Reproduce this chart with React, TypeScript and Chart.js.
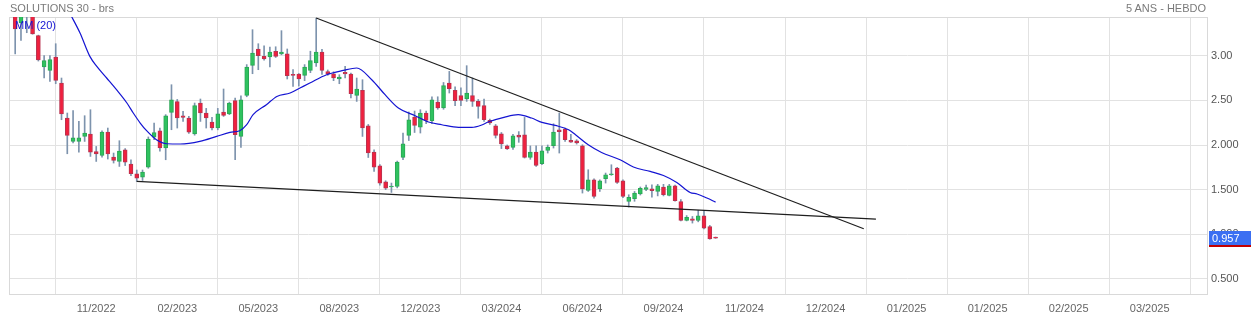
import React, { useEffect, useRef } from "react";
import { Chart, registerables } from "chart.js";

Chart.register(...registerables);

// ---- DATA (weekly candles, index 0 = first visible week) ----
const opens = [
  3.55, 3.366, 3.62, 3.5, 3.224, 2.873, 2.835, 2.985, 2.694, 2.302,
  2.04, 2.04, 2.096, 2.123, 1.925, 1.883, 2.145, 1.865, 1.816, 1.947,
  1.787, 1.678, 1.641, 1.753, 2.089, 2.16, 1.966, 2.365, 2.485, 2.328,
  2.302, 2.123, 2.47, 2.358, 2.257, 2.19, 2.369, 2.347, 2.496, 2.096,
  2.555, 2.891, 3.075, 2.992, 2.985, 3.048, 3.019, 3.022, 2.79, 2.795,
  2.779, 2.835, 2.918, 3.041, 2.821, 2.798, 2.739, 2.813, 2.795, 2.555,
  2.611, 2.216, 1.921, 1.768, 1.589, 1.53, 1.537, 1.861, 2.107, 2.313,
  2.201, 2.358, 2.272, 2.481, 2.414, 2.694, 2.611, 2.552, 2.515, 2.552,
  2.488, 2.44, 2.275, 2.216, 2.126, 1.992, 1.973, 2.111, 2.115, 1.861,
  1.921, 1.79, 1.939, 1.992, 2.17, 2.179, 2.051, 2.048, 1.992, 1.491,
  1.611, 1.51, 1.622, 1.667, 1.742, 1.6, 1.368, 1.398, 1.451, 1.502,
  1.51, 1.48, 1.529, 1.435, 1.544, 1.368, 1.155, 1.174, 1.155, 1.208,
  1.088, 0.96,
];
const highs = [
  3.6, 3.5, 3.68, 3.55, 3.23, 3.0, 3.0, 3.134, 2.75, 2.358,
  2.384, 2.264, 2.328, 2.395, 1.984, 2.16, 2.19, 1.91, 2.048, 1.96,
  1.835, 1.72, 1.72, 2.09, 2.246, 2.19, 2.34, 2.675, 2.51, 2.376,
  2.32, 2.47, 2.515, 2.41, 2.31, 2.41, 2.627, 2.48, 2.526, 2.55,
  2.9, 3.291, 3.134, 3.11, 3.097, 3.1, 3.28, 3.075, 2.843, 2.8,
  2.9, 3.05, 3.42, 3.07, 2.84, 2.82, 2.787, 2.88, 2.806, 2.75,
  2.731, 2.23, 1.947, 1.78, 1.6, 1.574, 1.82, 2.134, 2.37, 2.38,
  2.395, 2.38, 2.54, 2.54, 2.7, 2.824, 2.65, 2.64, 2.888, 2.75,
  2.51, 2.515, 2.29, 2.23, 2.14, 2.0, 2.12, 2.15, 2.309, 1.99,
  1.99, 1.99, 2.0, 2.238, 2.358, 2.19, 2.12, 2.06, 2.003, 1.723,
  1.622, 1.61, 1.686, 1.779, 1.75, 1.61, 1.443, 1.48, 1.53, 1.55,
  1.555, 1.56, 1.56, 1.56, 1.55, 1.39, 1.21, 1.2, 1.268, 1.268,
  1.1, 0.97,
];
const lows = [
  3.02, 3.17, 3.257, 3.24, 2.94, 2.75, 2.712, 2.686, 2.283, 1.902,
  2.022, 1.921, 2.04, 1.872, 1.816, 1.865, 1.843, 1.798, 1.76, 1.77,
  1.656, 1.592, 1.603, 1.74, 2.059, 1.93, 1.835, 2.171, 2.19, 2.264,
  2.13, 2.11, 2.264, 2.19, 2.17, 2.17, 2.32, 2.34, 1.835, 1.973,
  2.54, 2.798, 2.843, 2.95, 2.873, 2.98, 3.01, 2.739, 2.656, 2.66,
  2.72, 2.81, 2.88, 2.79, 2.78, 2.72, 2.686, 2.75, 2.526, 2.488,
  2.096, 1.86, 1.704, 1.55, 1.5, 1.469, 1.52, 1.835, 2.05, 2.14,
  2.134, 2.24, 2.24, 2.4, 2.4, 2.582, 2.44, 2.44, 2.488, 2.432,
  2.3, 2.264, 2.23, 2.078, 1.96, 1.95, 1.95, 2.03, 1.854, 1.84,
  1.76, 1.78, 1.91, 1.966, 1.91, 2.04, 2.03, 2.01, 1.462, 1.48,
  1.406, 1.48, 1.574, 1.66, 1.57, 1.41, 1.305, 1.37, 1.44, 1.49,
  1.417, 1.43, 1.43, 1.43, 1.37, 1.15, 1.15, 1.126, 1.14, 1.06,
  0.945, 0.955,
];
const closes = [
  3.3, 3.46, 3.48, 3.243, 2.952, 2.944, 2.955, 2.723, 2.347, 2.107,
  2.081, 2.081, 2.134, 1.921, 1.899, 2.145, 1.899, 1.827, 1.932, 1.809,
  1.678, 1.63, 1.697, 2.067, 2.14, 1.966, 2.328, 2.507, 2.302, 2.309,
  2.145, 2.44, 2.358, 2.302, 2.19, 2.35, 2.331, 2.47, 2.115, 2.507,
  2.873, 3.03, 3.0, 2.963, 3.041, 2.992, 3.041, 2.776, 2.78, 2.739,
  2.873, 2.944, 3.041, 2.835, 2.795, 2.75, 2.761, 2.795, 2.574, 2.627,
  2.19, 1.91, 1.753, 1.574, 1.518, 1.54, 1.809, 2.014, 2.283, 2.219,
  2.358, 2.275, 2.507, 2.414, 2.664, 2.63, 2.496, 2.5, 2.582, 2.488,
  2.432, 2.283, 2.246, 2.107, 2.011, 1.955, 2.104, 2.089, 1.861, 1.921,
  1.771, 1.936, 1.977, 2.145, 2.15, 2.059, 2.033, 2.022, 1.507, 1.611,
  1.424, 1.6, 1.667, 1.668, 1.581, 1.424, 1.413, 1.462, 1.514, 1.522,
  1.49, 1.544, 1.443, 1.544, 1.376, 1.155, 1.189, 1.155, 1.208, 1.07,
  0.95, 0.957,
];

// MM(20) (candle index, value)
const maIndex = [
  9.4, 11.2, 12.9, 14.1, 15.8, 17.5, 19.3, 20.4, 21.6, 22.7, 24.4, 26.2,
  28.5, 31.9, 34.8, 37.1, 38.8, 40.0, 41.1, 43.4, 45.2, 47.5, 49.2, 50.9,
  53.8, 56.7, 59.0, 61.6, 63.9, 66.2, 69.1, 71.4, 73.7, 76.6, 78.9, 80.6,
  81.7, 84.6, 86.9, 89.2, 91.0, 93.3, 95.6, 96.8, 99.0, 101.3, 104.5,
  106.8, 109.7, 112.0, 114.3, 116.6, 117.8, 119.5, 121.0,
];
const maValue = [
  3.48, 3.254, 2.992, 2.88, 2.75, 2.619, 2.47, 2.358, 2.246, 2.16, 2.059, 2.014,
  2.011, 2.04, 2.096, 2.141, 2.16, 2.227, 2.339, 2.451, 2.544, 2.582, 2.638, 2.694,
  2.787, 2.835, 2.862, 2.731, 2.563, 2.414, 2.328, 2.257, 2.227, 2.197, 2.197, 2.224,
  2.257, 2.313, 2.339, 2.302, 2.253, 2.219, 2.171, 2.115, 2.003, 1.917, 1.835,
  1.753, 1.704, 1.659, 1.581, 1.469, 1.451, 1.406, 1.361,
];

// Trend lines (index, value) endpoints
const upperTrendIdx = [52.0, 146.6];
const upperTrendVal = [3.422, 1.062];
const lowerTrendIdx = [21.0, 148.7];
const lowerTrendVal = [1.592, 1.171];

// Axis ticks
const xTickIdx = [14, 28, 42, 56, 70, 84, 98, 112, 126, 140, 154, 168, 182, 196];
const xTickLabels = [
  "11/2022", "02/2023", "05/2023", "08/2023", "12/2023", "03/2024", "06/2024",
  "09/2024", "11/2024", "12/2024", "01/2025", "01/2025", "02/2025", "03/2025",
];
const yTickValues = [0.5, 1.0, 1.5, 2.0, 2.5, 3.0];
const yTickLabels = ["0.500", "1.000", "1.500", "2.000", "2.50", "3.00"];

const X_MIN = -1.07;
const X_MAX = 205.9;
const Y_MIN = 0.332;
const Y_MAX = 3.433;

const FONT = "'Liberation Sans', Arial, sans-serif";

const GREEN = "#2fc25f";
const GREEN_B = "#2aa655";
const RED = "#f0203e";
const RED_B = "#b8334f";
const WICK = "#7d93ad";

export default function App() {
  const ref = useRef<HTMLCanvasElement | null>(null);

  useEffect(() => {
    const canvas = ref.current;
    if (!canvas) return;

    const bodies = opens.map((o, i) => ({ x: i, y: [o, closes[i]] }));
    const wicks = lows.map((l, i) => ({ x: i, y: [l, highs[i]] }));
    const bodyBg = opens.map((o, i) => (closes[i] >= o ? GREEN : RED));
    const bodyBd = opens.map((o, i) => (closes[i] >= o ? GREEN_B : RED_B));
    const ma = maIndex.map((x, i) => ({ x, y: maValue[i] }));
    const up = upperTrendIdx.map((x, i) => ({ x, y: upperTrendVal[i] }));
    const lo = lowerTrendIdx.map((x, i) => ({ x, y: lowerTrendVal[i] }));
    const lastClose = closes[closes.length - 1];

    const framePlugin = {
      id: "frame",
      beforeDatasetsDraw(chart: any) {
        const { ctx, chartArea: a } = chart;
        ctx.save();
        ctx.strokeStyle = "#d9d9d9";
        ctx.lineWidth = 1;
        ctx.strokeRect(Math.round(a.left) + 0.5, Math.round(a.top) + 0.5,
          Math.round(a.right - a.left), Math.round(a.bottom - a.top));
        ctx.restore();
      },
    };

    const lastPlugin = {
      id: "lastLabel",
      afterDraw(chart: any) {
        const { ctx, chartArea: a } = chart;
        const y = chart.scales.y.getPixelForValue(lastClose);
        const x0 = a.right + 2;
        ctx.save();
        ctx.fillStyle = "#3b6ff2";
        ctx.fillRect(x0, Math.round(y) - 7, chart.width - x0, 14);
        ctx.fillStyle = "#c40000";
        ctx.fillRect(x0, Math.round(y) + 7, chart.width - x0, 2);
        ctx.fillStyle = "#ffffff";
        ctx.font = "11px " + FONT;
        ctx.textBaseline = "middle";
        ctx.textAlign = "left";
        ctx.fillText(lastClose.toFixed(3), x0 + 3, Math.round(y) + 0.5);
        ctx.restore();
      },
    };

    const chart = new Chart(canvas, {
      type: "bar",
      data: {
        datasets: [
          {
            type: "line",
            data: up,
            borderColor: "#1e1e1e",
            borderWidth: 1.2,
            pointRadius: 0,
            tension: 0,
            order: 0,
          } as any,
          {
            type: "line",
            data: lo,
            borderColor: "#1e1e1e",
            borderWidth: 1.2,
            pointRadius: 0,
            tension: 0,
            order: 0,
          } as any,
          {
            type: "line",
            data: ma,
            borderColor: "#1414d2",
            borderWidth: 1.2,
            pointRadius: 0,
            cubicInterpolationMode: "monotone",
            order: 1,
          } as any,
          {
            type: "bar",
            data: bodies,
            backgroundColor: bodyBg,
            borderColor: bodyBd,
            borderWidth: 1,
            borderSkipped: false,
            barThickness: 4,
            minBarLength: 1,
            grouped: false,
            order: 2,
          } as any,
          {
            type: "bar",
            data: wicks,
            backgroundColor: WICK,
            borderWidth: 0,
            barThickness: 1,
            minBarLength: 1,
            grouped: false,
            order: 3,
          } as any,
        ],
      },
      options: {
        animation: false,
        responsive: false,
        maintainAspectRatio: false,
        layout: { padding: { left: 9, top: 17, right: 0, bottom: 0 } },
        plugins: { legend: { display: false }, tooltip: { enabled: false } },
        scales: {
          x: {
            type: "linear",
            min: X_MIN,
            max: X_MAX,
            offset: false,
            grid: { color: "#e2e2e2", drawTicks: false },
            border: { display: false },
            afterBuildTicks: (s: any) => {
              s.ticks = xTickIdx.map((v) => ({ value: v }));
            },
            afterFit: (s: any) => {
              s.height = 24;
            },
            ticks: {
              autoSkip: false,
              maxRotation: 0,
              padding: 8,
              color: "#666666",
              font: { family: FONT, size: 11 },
              callback: (v: any) => {
                const k = xTickIdx.indexOf(Number(v));
                return k >= 0 ? xTickLabels[k] : "";
              },
            },
          },
          y: {
            position: "right",
            min: Y_MIN,
            max: Y_MAX,
            grid: { color: "#e2e2e2", drawTicks: false },
            border: { display: false },
            afterBuildTicks: (s: any) => {
              s.ticks = yTickValues.map((v) => ({ value: v }));
            },
            afterFit: (s: any) => {
              s.width = 44;
            },
            ticks: {
              padding: 4,
              color: "#555555",
              font: { family: FONT, size: 11 },
              callback: (v: any) => {
                const k = yTickValues.indexOf(Number(v));
                return k >= 0 ? yTickLabels[k] : "";
              },
            },
          },
        },
      },
      plugins: [framePlugin, lastPlugin],
    } as any);

    return () => chart.destroy();
  }, []);

  return (
    <div style={{ position: "absolute", left: 0, top: 0, width: 1251, height: 318, background: "#fff", fontFamily: FONT }}>
      <canvas ref={ref} width={1251} height={318} style={{ display: "block", width: 1251, height: 318 }} />
      <div style={{ position: "absolute", left: 10, top: 2, fontSize: 11, color: "#7a7a7a", whiteSpace: "nowrap" }}>
        SOLUTIONS 30 - brs
      </div>
      <div style={{ position: "absolute", right: 45, top: 2, fontSize: 11, color: "#7a7a7a", whiteSpace: "nowrap" }}>
        5 ANS - HEBDO
      </div>
      <div style={{ position: "absolute", left: 15, top: 19, fontSize: 11, color: "#1414d2", whiteSpace: "nowrap" }}>
        MM (20)
      </div>
    </div>
  );
}
